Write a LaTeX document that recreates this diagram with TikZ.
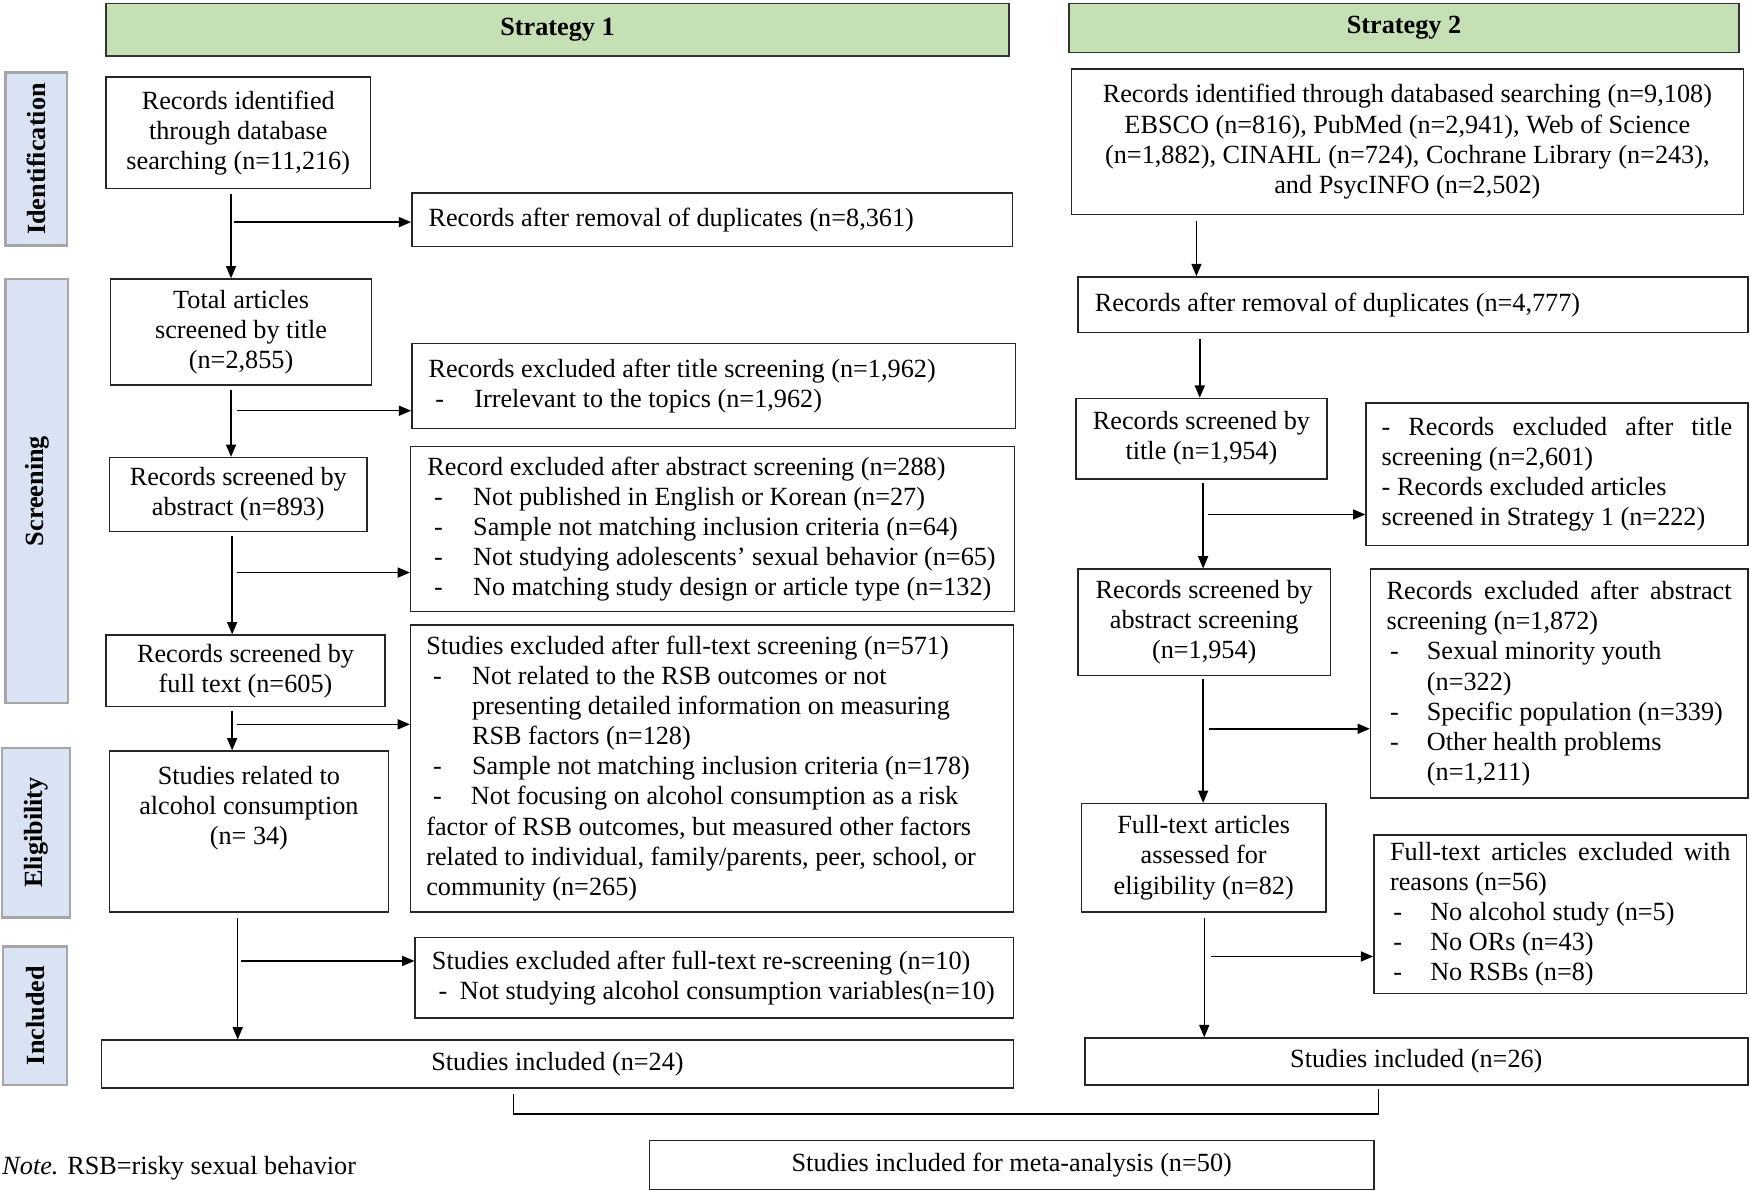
\documentclass[tikz,border=0pt]{standalone}
\usepackage{fontspec}
\setmainfont{Liberation Serif}
\usetikzlibrary{arrows.meta,calc}
\definecolor{hdrgreen}{HTML}{C5E0B4}
\definecolor{sideblue}{HTML}{DAE3F3}
\definecolor{sidegray}{HTML}{A6A6A6}
\newcommand{\dsh}[3]{\hspace*{#1}\makebox[#2][l]{-}\mbox{#3}}
\newcommand{\jline}[2]{\makebox[#1][s]{\spaceskip=0pt\relax #2}}
\begin{document}
\begin{tikzpicture}[x=1pt,y=-1pt,
  txt/.style={font=\fontsize{23.5}{27}\selectfont},
  cbox/.style={txt,draw=black!85,line width=1.3pt,inner sep=0pt,align=center},
  lbox/.style={txt,draw=black!85,line width=1.3pt,inner xsep=15pt,inner ysep=0pt,align=flush left},
  hdr/.style={draw=black!80,fill=hdrgreen,line width=1.3pt,inner sep=0pt,font=\fontsize{23.5}{27}\selectfont\bfseries},
  side/.style={draw=sidegray,fill=sideblue,line width=2pt,inner sep=0pt,rotate=90,font=\fontsize{23.5}{27}\selectfont\bfseries},
  arr/.style={line width=1.3pt,-{Triangle[length=11pt,width=9pt]}},
  ln/.style={line width=1.3pt}]
\useasboundingbox (0,0) rectangle (1568,1067);

% headers
\node[hdr,minimum width=809pt,minimum height=47pt] (H1) at (499.5,26.5) {Strategy 1};
\node[hdr,minimum width=600pt,minimum height=44pt] (H2) at (1258,25) {Strategy 2};

% side labels
\node[side,minimum width=155pt,minimum height=55pt] (L1) at (32.5,142.5) {Identification};
\node[side,minimum width=380pt,minimum height=56pt] (L2) at (33,440) {Screening};
\node[side,minimum width=152pt,minimum height=61pt] (L3) at (32.5,746) {Eligibility};
\node[side,minimum width=124pt,minimum height=57pt] (L4) at (31.5,910) {Included};

% Strategy 1
\node[cbox,minimum width=237pt,minimum height=100pt] (A1) at (213.5,119) {Records identified\\through database\\searching (n=11,216)};
\node[lbox,text width=508pt,minimum height=48pt] (A2) at (638,197) {Records after removal of duplicates (n=8,361)};
\node[cbox,minimum width=234pt,minimum height=95pt] (A3) at (216,297.5) {Total articles\\screened by title\\(n=2,855)};
\node[lbox,text width=511pt,minimum height=76pt] (A4) at (639.5,346) {Records excluded after title screening (n=1,962)\\\dsh{6pt}{35pt}{Irrelevant to the topics (n=1,962)}};
\node[cbox,minimum width=231pt,minimum height=66pt] (A5) at (213.5,443) {Records screened by\\abstract (n=893)};
\node[lbox,text width=511pt,minimum height=148pt] (A6) at (638.5,474) {Record excluded after abstract screening (n=288)\\
\dsh{6pt}{35pt}{Not published in English or Korean (n=27)}\\
\dsh{6pt}{35pt}{Sample not matching inclusion criteria (n=64)}\\
\dsh{6pt}{35pt}{Not studying adolescents’ sexual behavior (n=65)}\\
\dsh{6pt}{35pt}{No matching study design or article type (n=132)}};
\node[cbox,minimum width=250pt,minimum height=64pt] (A7) at (220,601) {Records screened by\\full text (n=605)};
\node[lbox,inner xsep=14pt,text width=512pt,minimum height=257pt] (A8) at (638,688.5) {Studies excluded after full-text screening (n=571)\\
\dsh{6pt}{35pt}{Not related to the RSB outcomes or not}\\
\hspace*{41pt}presenting detailed information on measuring\\
\hspace*{41pt}RSB factors (n=128)\\
\dsh{6pt}{35pt}{Sample not matching inclusion criteria (n=178)}\\
\dsh{6pt}{34pt}{Not focusing on alcohol consumption as a risk}\\
factor of RSB outcomes, but measured other factors\\
related to individual, family/parents, peer, school, or\\
community (n=265)};
\node[cbox,minimum width=250pt,minimum height=144pt] (A9) at (223,745) {};
\node[txt,align=center,anchor=north,inner sep=0pt] (A9t) at ($(A9.north)+(0,14)$) {Studies related to\\alcohol consumption\\(n= 34)};
\node[lbox,text width=506pt,minimum height=72pt] (A10) at (640,876) {Studies excluded after full-text re-screening (n=10)\\\dsh{6pt}{19pt}{Not studying alcohol consumption variables(n=10)}};
\node[cbox,minimum width=817pt,minimum height=43pt] (A11) at (499.5,953.5) {Studies included (n=24)};

% Strategy 2
\node[cbox,minimum width=602pt,minimum height=130pt] (B1) at (1261,127) {Records identified through databased searching (n=9,108)\\EBSCO (n=816), PubMed (n=2,941), Web of Science\\(n=1,882), CINAHL (n=724), Cochrane Library (n=243),\\and PsycINFO (n=2,502)};
\node[lbox,text width=570pt,minimum height=50pt] (B2) at (1266,273) {Records after removal of duplicates (n=4,777)};
\node[cbox,minimum width=225pt,minimum height=72pt] (B3) at (1076.5,393) {Records screened by\\title (n=1,954)};
\node[lbox,inner xsep=14pt,text width=314pt,minimum height=128pt] (B4) at (1395,425) {\jline{314pt}{- Records excluded after title}\\screening (n=2,601)\\- Records excluded articles\\screened in Strategy 1 (n=222)};
\node[cbox,minimum width=226pt,minimum height=95pt] (B5) at (1079,557.5) {Records screened by\\abstract screening\\(n=1,954)};
\node[lbox,inner xsep=14.5pt,text width=309pt,minimum height=205pt] (B6) at (1397,612.5) {\jline{309pt}{Records excluded after abstract}\\screening (n=1,872)\\
\dsh{3pt}{33pt}{Sexual minority youth}\\
\hspace*{36pt}(n=322)\\
\dsh{3pt}{33pt}{Specific population (n=339)}\\
\dsh{3pt}{33pt}{Other health problems}\\
\hspace*{36pt}(n=1,211)};
\node[cbox,minimum width=219pt,minimum height=97pt] (B7) at (1078.5,768.5) {Full-text articles\\assessed for\\eligibility (n=82)};
\node[lbox,inner xsep=14.5pt,text width=305pt,minimum height=142pt] (B8) at (1398,819) {\jline{305pt}{Full-text articles excluded with}\\reasons (n=56)\\
\dsh{3pt}{33pt}{No alcohol study (n=5)}\\
\dsh{3pt}{33pt}{No ORs (n=43)}\\
\dsh{3pt}{33pt}{No RSBs (n=8)}};
\node[cbox,minimum width=594pt,minimum height=42pt] (B9) at (1269,951) {Studies included (n=26)};

% final
\node[cbox,minimum width=649pt,minimum height=44pt] (M) at (906.5,1044) {Studies included for meta-analysis (n=50)};
\node[txt,anchor=west,inner sep=0pt] (note) at (2,1047) {\textit{Note.} RSB=risky sexual behavior};

% trunk x positions
\coordinate (T1) at (207,0);
\coordinate (T2) at (207,0);
\coordinate (T3) at (208,0);
\coordinate (T4) at (208,0);
\coordinate (T5) at (213,0);
\coordinate (U1) at (1072,0);
\coordinate (U2) at (1075,0);
\coordinate (U3) at (1078,0);
\coordinate (U4) at (1078,0);
\coordinate (U5) at (1079,0);
% side arrow heights
\coordinate (Y2) at (0,199);
\coordinate (Y4) at (0,368);
\coordinate (Y6) at (0,513);
\coordinate (Y8) at (0,649);
\coordinate (Y10) at (0,861);
\coordinate (Z4) at (0,461);
\coordinate (Z6) at (0,653);
\coordinate (Z8) at (0,857);

% Strategy 1 connectors
\draw[arr] ($(A1.south -| T1)+(0,4)$) -- (A3.north -| T1);
\draw[arr] ($(T1 |- Y2)+(3,0)$) -- (A2.west |- Y2);
\draw[arr] ($(A3.south -| T2)+(0,4)$) -- (A5.north -| T2);
\draw[arr] ($(T2 |- Y4)+(5,0)$) -- (A4.west |- Y4);
\draw[arr] ($(A5.south -| T3)+(0,4)$) -- (A7.north -| T3);
\draw[arr] ($(T3 |- Y6)+(4,0)$) -- (A6.west |- Y6);
\draw[arr] ($(A7.south -| T4)+(0,3)$) -- (A9.north -| T4);
\draw[arr] ($(T4 |- Y8)+(4,0)$) -- (A8.west |- Y8);
\draw[arr] ($(A9.south -| T5)+(0,5)$) -- (A11.north -| T5);
\draw[arr] ($(T5 |- Y10)+(3,0)$) -- (A10.west |- Y10);

% Strategy 2 connectors
\draw[arr] ($(B1.south -| U1)+(0,5)$) -- (B2.north -| U1);
\draw[arr] ($(B2.south -| U2)+(0,5)$) -- (B3.north -| U2);
\draw[arr] ($(B3.south -| U3)+(0,3)$) -- (B5.north -| U3);
\draw[arr] ($(U3 |- Z4)+(4,0)$) -- (B4.west |- Z4);
\draw[arr] ($(B5.south -| U4)+(0,3)$) -- (B7.north -| U4);
\draw[arr] ($(U4 |- Z6)+(5,0)$) -- (B6.west |- Z6);
\draw[arr] ($(B7.south -| U5)+(0,5)$) -- (B9.north -| U5);
\draw[arr] ($(U5 |- Z8)+(6,0)$) -- (B8.west |- Z8);

% bracket
\coordinate (BRa) at (460,0);
\coordinate (BRb) at (1235,0);
\coordinate (BRy) at (0,998);
\draw[ln] ($(A11.south -| BRa)+(0,5)$) -- (BRa |- BRy) -- (BRb |- BRy) -- ($(B9.south -| BRb)+(0,3)$);
\end{tikzpicture}
\end{document}
